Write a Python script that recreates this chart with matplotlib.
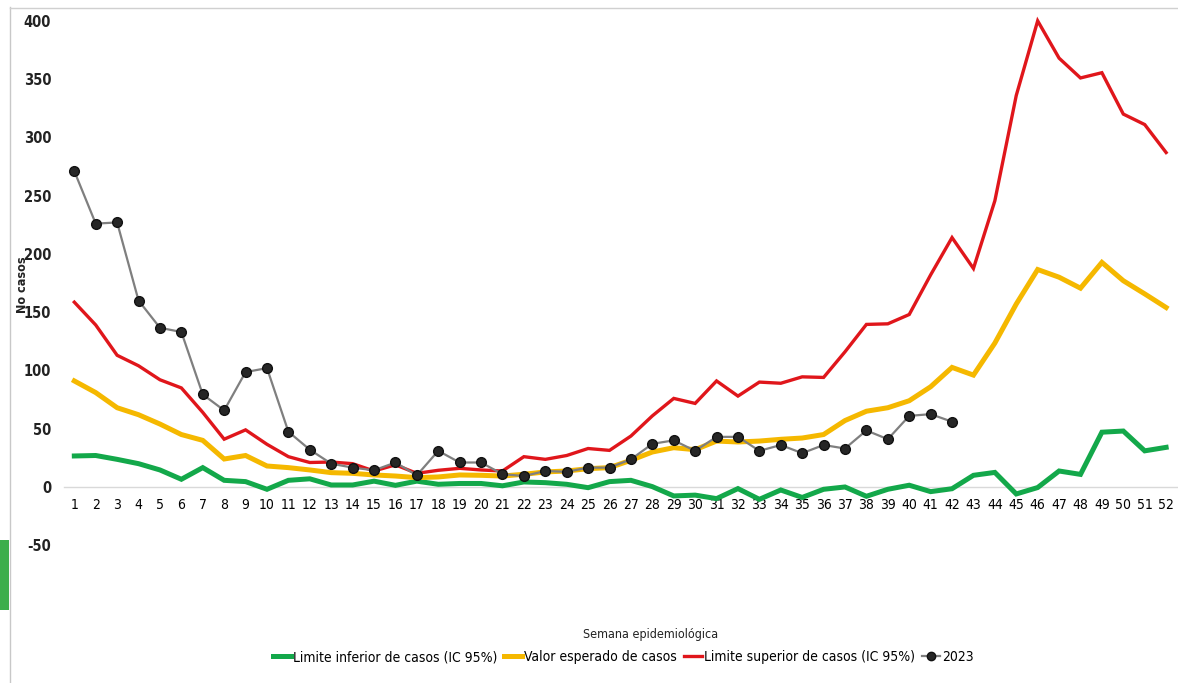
import matplotlib
matplotlib.use("Agg")
import matplotlib.pyplot as plt
from matplotlib.lines import Line2D
from matplotlib.patches import Rectangle
from matplotlib import font_manager as fm

weeks = list(range(1, 53))

limite_inferior = [26.6, 27, 23.7, 20, 14.6, 6.6, 16.6, 5.7, 4.6, -2, 5.7, 7, 1.7, 1.7, 5, 1.4,
                   5, 2.3, 3, 3, 1, 4.3, 3.7, 2.3, -0.6, 4.6, 5.7, 0.3, -7.7, -7, -10, -1.4, -10.6, -2.6,
                   -9, -2, 0, -8, -2, 1.5, -4, -1.5, 10, 12.5, -6, -0.5, 13.7, 10.8, 47, 48, 31, 34]
valor_esperado = [91, 81, 68, 62, 54, 45, 40, 24, 27, 18, 16.6, 14.6, 12.3, 11.7, 10.3, 9.4,
                  8, 8.6, 10.3, 10, 9.4, 10.9, 12.9, 13.7, 15.7, 16.6, 22.9, 30, 33.7, 32, 39.4, 38.6, 39.4, 40.9,
                  42, 45, 57, 65, 68, 74, 86, 102.6, 96, 123.5, 157, 186.6, 180, 170.6, 192.7, 177, 165.7, 154]
limite_superior = [158.6, 139, 113, 104, 92, 85, 64, 41, 49, 36.6, 26, 21, 21.4, 20, 13.7, 19,
                   11.7, 14.3, 16, 14.6, 13.7, 26, 23.7, 27, 33, 31.4, 43.7, 61, 76, 71.7, 91, 78, 90, 89,
                   94.5, 94, 116, 139.5, 140, 148, 182, 214, 187.5, 245.6, 336, 400, 368, 351, 355.5, 320, 311, 287]
weeks_2023 = list(range(1, 43))
casos_2023 = [271, 226, 227, 160, 136.6, 133, 79.4, 65.7, 98.6, 102, 47.4, 32, 20, 16.6, 14.3, 21,
              10, 31, 21, 21, 11, 9.4, 13.7, 13, 16.6, 16.6, 23.7, 37, 40, 31, 43, 43, 31, 36,
              29, 36, 33, 48.5, 41, 61, 62.5, 56]

labels = ["Limite inferior de casos (IC 95%)", "Valor esperado de casos",
          "Limite superior de casos (IC 95%)", "2023"]
yticks = [-50, 0, 50, 100, 150, 200, 250, 300, 350, 400]

# prefer a condensed face if available
cond_path = fm.findfont(fm.FontProperties(family='DejaVu Sans', stretch='condensed'))
has_cond = 'Condensed' in cond_path
plt.rcParams['font.family'] = ['DejaVu Sans']
if has_cond:
    plt.rcParams['font.stretch'] = 'condensed'
    leg_fs = 10.0
    title_fs = 9.0
else:
    leg_fs = 8.4
    title_fs = 7.8

fig = plt.figure(figsize=(11.78, 6.83), dpi=100)
ax = fig.add_axes([0.054, 0.1164, 0.945, 0.8616])

c_green = '#13a84a'
c_yellow = '#f5b800'
c_red = '#e0161b'
c_gray = '#7f7f7f'

ax.plot(weeks, limite_inferior, color=c_green, lw=3.6, solid_joinstyle='miter', zorder=3)
ax.plot(weeks, valor_esperado, color=c_yellow, lw=3.6, solid_joinstyle='miter', zorder=4)
ax.plot(weeks, limite_superior, color=c_red, lw=2.4, solid_joinstyle='miter', zorder=5)
ax.plot(weeks_2023, casos_2023, color=c_gray, lw=1.6, marker='o', markersize=7,
        markerfacecolor='#262626', markeredgecolor='#111111', zorder=6)

ax.set_xlim(0.5, 52.5)
ax.set_ylim(-100, 405)
ax.set_yticks(yticks)
ax.set_xticks(weeks)
ax.set_xticklabels([str(w) for w in weeks], fontsize=8.3, color='#333333')
ax.set_yticklabels([str(v) for v in yticks], fontsize=10.5, color='#222222', fontweight='bold')
for s in ['top', 'right', 'left']:
    ax.spines[s].set_visible(False)
ax.spines['bottom'].set_position(('data', 0))
ax.spines['bottom'].set_color('#d9d9d9')
ax.spines['bottom'].set_linewidth(1.0)
ax.spines['bottom'].set_zorder(1)
ax.tick_params(axis='both', length=0)
ax.tick_params(axis='x', pad=8)
ax.tick_params(axis='y', pad=9)

fig.text(0.019, 0.583, "No casos", rotation=90, fontsize=9, fontweight='bold',
         ha='center', va='center', color='#222222')
fig.text(0.552, 0.071, "Semana epidemiológica", fontsize=title_fs, ha='center', va='center',
         color='#222222')

handles = [Line2D([], [], color=c_green, lw=3.6),
           Line2D([], [], color=c_yellow, lw=3.6),
           Line2D([], [], color=c_red, lw=2.4),
           Line2D([], [], color=c_gray, lw=1.6, marker='o', markersize=6,
                  markerfacecolor='#262626', markeredgecolor='#111111')]
fig.legend(handles, labels, loc='center', bbox_to_anchor=(0.529, 0.038), ncol=4,
           frameon=False, fontsize=leg_fs, handlelength=1.3, handletextpad=0.15,
           columnspacing=0.5, borderaxespad=0)

# screenshot frame artifacts
fig.add_artist(Line2D([0.0085, 0.0085], [0.0, 0.99], transform=fig.transFigure,
                      color='#c8c8c8', lw=1.0))
fig.add_artist(Line2D([0.0085, 1.0], [0.988, 0.988], transform=fig.transFigure,
                      color='#d0d0d0', lw=1.0))
fig.add_artist(Rectangle((0.0, 0.107), 0.0075, 0.103, transform=fig.transFigure,
                         color='#3cae4c', lw=0))

fig.savefig("out.png", dpi=100)
